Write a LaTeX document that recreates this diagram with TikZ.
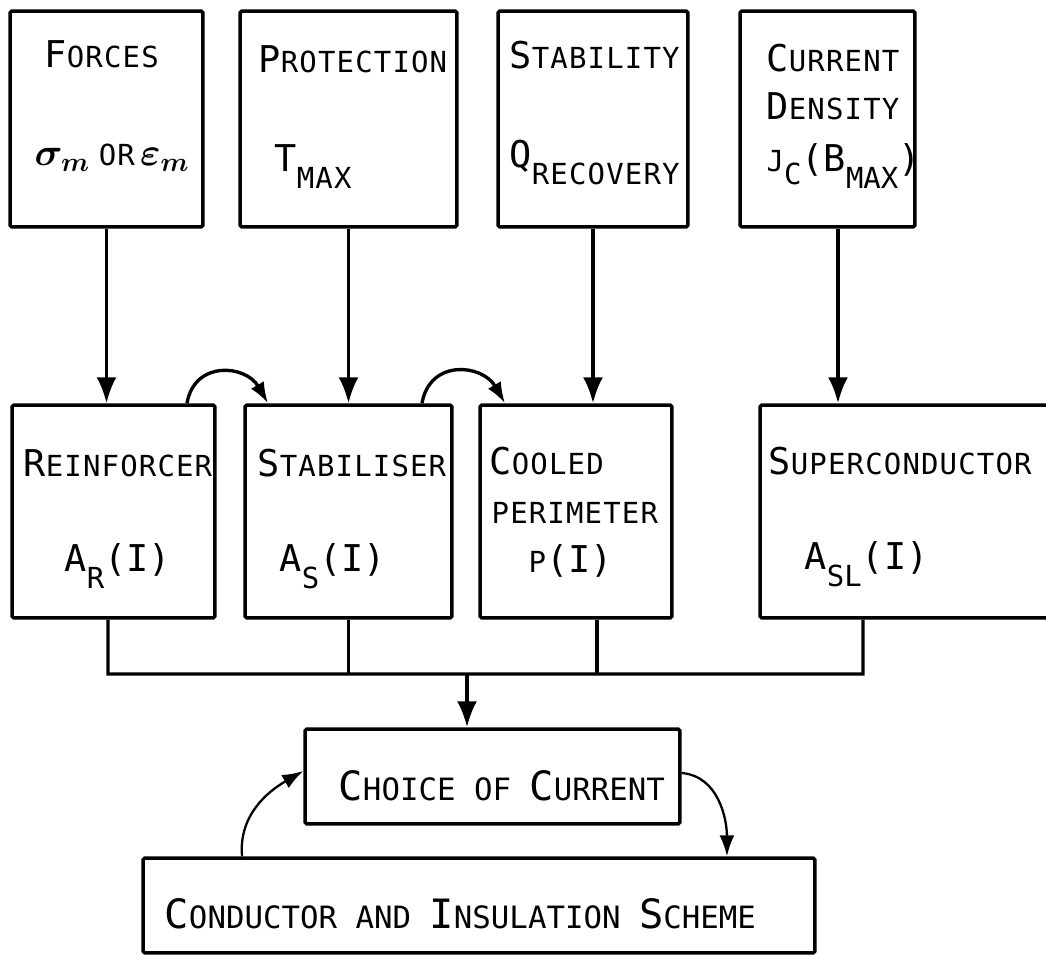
\documentclass[tikz,border=0pt]{standalone}
\usepackage{fix-cm}
\usepackage{bm}
\usepackage{fontspec}
\usetikzlibrary{arrows.meta}
\newfontfamily\typewide[LetterSpace=4]{DejaVu Sans Mono}
\newfontfamily\typeplain{DejaVu Sans Mono}
\newcommand{\tbig}[1]{{\fontsize{21}{24}\selectfont #1}}
\newcommand{\tsmall}[1]{{\fontsize{16.5}{19}\selectfont #1}}
\newcommand{\tlow}[1]{\raisebox{-9.5pt}{\tsmall{#1}}}
\newcommand{\ubig}[1]{{\fontsize{23}{26}\selectfont #1}}
\newcommand{\usmall}[1]{{\fontsize{17.5}{20}\selectfont #1}}
\newcommand{\hand}[1]{{\fontsize{22}{26}\selectfont$#1$}}
\begin{document}
\begin{tikzpicture}[x=0.02cm, y=-0.02cm, line width=1.9pt,
    >={Latex[length=0.52cm,width=0.4cm]},
    block/.style={draw, line width=2pt, rounded corners=1pt, inner sep=0pt},
    word/.style={anchor=base west, inner sep=0pt, font=\typewide},
    formula/.style={anchor=base west, inner sep=0pt, font=\typeplain},
    hop/.style={->, >={Latex[length=0.42cm,width=0.3cm]}}]
    \useasboundingbox (0,0) rectangle (1046,956);

    \node[block, minimum width=3.86cm, minimum height=4.32cm] (forces) at (106.5,119) {};
    \node[block, minimum width=4.34cm, minimum height=4.32cm] (protection) at (348.5,119) {};
    \node[block, minimum width=3.80cm, minimum height=4.32cm] (stability) at (593,119) {};
    \node[block, minimum width=3.50cm, minimum height=4.32cm] (density) at (827.5,119) {};

    \node[block, minimum width=4.06cm, minimum height=4.26cm] (reinforcer) at (113.5,511.5) {};
    \node[block, minimum width=4.14cm, minimum height=4.26cm] (stabiliser) at (348.5,511.5) {};
    \node[block, minimum width=3.84cm, minimum height=4.26cm] (perimeter) at (576,511.5) {};
    \node[block, minimum width=6.00cm, minimum height=4.26cm] (supercond) at (910,511.5) {};

    \node[block, minimum width=7.50cm, minimum height=1.90cm] (choice) at (492.5,776.5) {};
    \node[block, minimum width=13.44cm, minimum height=1.90cm] (scheme) at (479,905.5) {};

    \node[word] (forces-a) at (43,68) {\tbig{F}\tsmall{ORCES}};
    \node[word] (forces-b) at (33,166) {\hand{\bm{\sigma}_{\bm{m}}}\hspace{5pt}\tsmall{OR}\hspace{3pt}\hand{\bm{\varepsilon}_{\bm{m}}}};
    \node[word] (protection-a) at (257,73) {\tbig{P}\tsmall{ROTECTION}};
    \node[word] (protection-b) at (273,172) {\tbig{T}\tlow{MAX}};
    \node[word] (stability-a) at (508,69) {\tbig{S}\tsmall{TABILITY}};
    \node[word] (stability-b) at (508,168) {\tbig{Q}\tlow{RECOVERY}};
    \node[word] (density-a) at (765,72) {\tbig{C}\tsmall{URRENT}};
    \node[word] (density-b) at (765,120) {\tbig{D}\tsmall{ENSITY}};
    \node[formula] (density-c) at (765,172) {\tsmall{J}\raisebox{-7pt}{\tsmall{C}}\tbig{(B}\tlow{MAX}\tbig{)}};

    \node[word] (reinforcer-a) at (22,477) {\tbig{R}\tsmall{EINFORCER}};
    \node[formula] (reinforcer-b) at (63,572) {\tbig{A}\tlow{R}\tbig{(I)}};
    \node[word] (stabiliser-a) at (256,477) {\tbig{S}\tsmall{TABILISER}};
    \node[formula] (stabiliser-b) at (278,572) {\tbig{A}\tlow{S}\tbig{(I)}};
    \node[word] (perimeter-a) at (488,475) {\tbig{C}\tsmall{OOLED}};
    \node[word] (perimeter-b) at (490,523) {\tsmall{PERIMETER}};
    \node[formula] (perimeter-c) at (527,573) {\tsmall{P}\tbig{(I)}};
    \node[word] (supercond-a) at (767,475) {\tbig{S}\tsmall{UPERCONDUCTOR}};
    \node[formula] (supercond-b) at (803,570) {\tbig{A}\tlow{SL}\tbig{(I)}};

    \node[formula] (choice-a) at (337,800) {\ubig{C}\usmall{HOICE OF }\ubig{C}\usmall{URRENT}};
    \node[formula] (scheme-a) at (163,928) {\ubig{C}\usmall{ONDUCTOR AND }\ubig{I}\usmall{NSULATION }\ubig{S}\usmall{CHEME}};

    \draw[->] (forces.south) -- (forces.south |- reinforcer.north);
    \draw[->] (protection.south) -- (protection.south |- stabiliser.north);
    \draw[->] (stability.south) -- (stability.south |- perimeter.north);
    \coordinate (jtap) at ([xshift=0.21cm]density.south);
    \draw[->] (jtap) -- (jtap |- supercond.north);

    \draw[hop] ([xshift=1.47cm]reinforcer.north) to[out=80, in=120, looseness=1.4] ([xshift=-1.61cm]stabiliser.north);
    \draw[hop] ([xshift=1.47cm]stabiliser.north) to[out=80, in=120, looseness=1.4] ([xshift=-1.42cm]perimeter.north);

    \coordinate (busL) at (108,674);
    \coordinate (busR) at (863,674);
    \draw ([xshift=-0.11cm]reinforcer.south) -- (busL) -- (busR) -- ([xshift=-0.94cm]supercond.south);
    \draw (stabiliser.south) -- (stabiliser.south |- busL);
    \coordinate (dropP) at ([xshift=0.42cm]perimeter.south);
    \draw (dropP) -- (dropP |- busL);
    \coordinate (feed) at ([xshift=-0.51cm]choice.north);
    \draw[->] (feed |- busL) -- (feed);

    \draw[hop, line width=1.3pt] ([xshift=-4.74cm]scheme.north) to[out=95, in=210] ([yshift=0.11cm]choice.west);
    \draw[hop, line width=1.3pt] ([yshift=0.07cm]choice.east) to[out=-5, in=90] ([xshift=4.96cm]scheme.north);
\end{tikzpicture}
\end{document}
